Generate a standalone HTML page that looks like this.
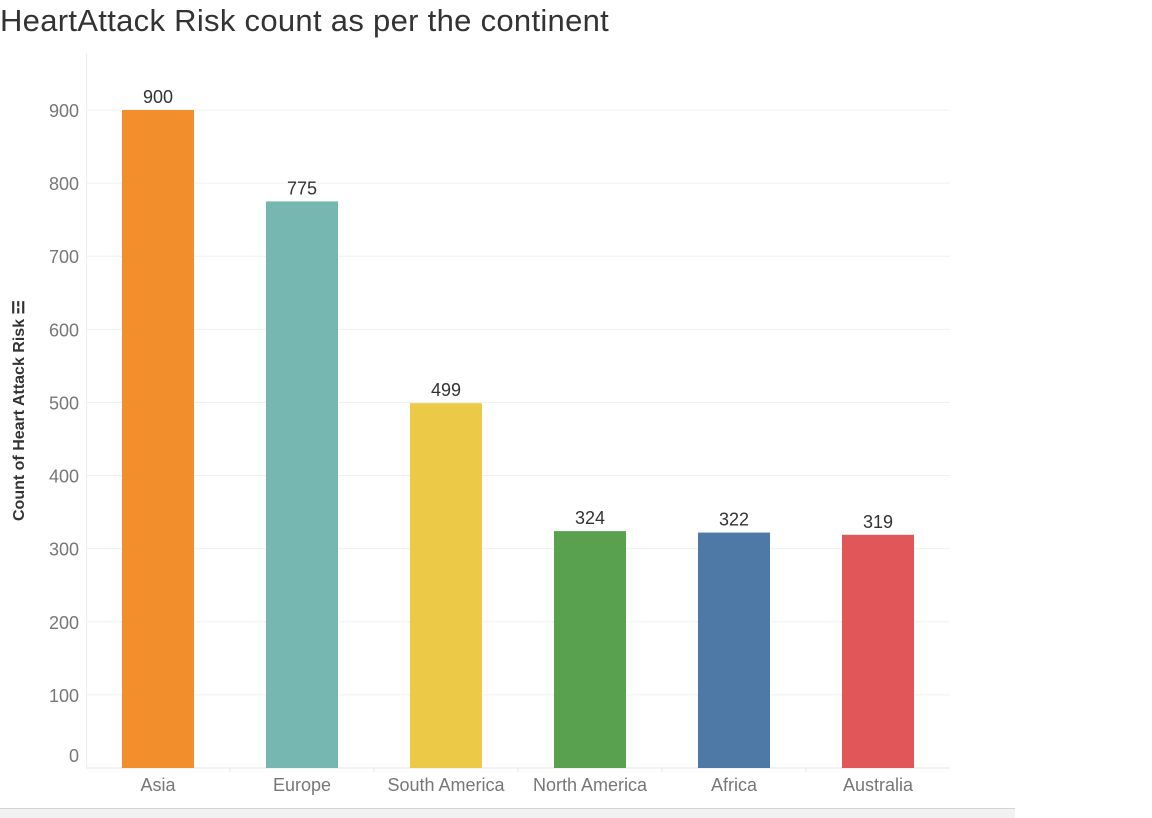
<!DOCTYPE html>
<html><head><meta charset="utf-8"><style>
body{margin:0;width:1152px;height:817px;background:#fff;overflow:hidden;font-family:"Liberation Sans",sans-serif}
#title{position:absolute;left:0;top:3px;font-size:31px;color:#333;font-weight:300;letter-spacing:0.3px}
#footer{position:absolute;left:0;top:808px;width:1015px;height:9px;background:#f2f2f2;border-top:1px solid #d4d4d4}
</style></head><body>
<div id="title">HeartAttack Risk count as per the continent</div>
<svg id="chart" width="1152" height="817" style="position:absolute;left:0;top:0"></svg>
<div id="footer"></div>
<script>
const categories=["Asia","Europe","South America","North America","Africa","Australia"];
const values=[900,775,499,324,322,319];
const colors=["#f28e2b","#76b7b2","#edc948","#59a14f","#4e79a7","#e15759"];
const ticks=[0,100,200,300,400,500,600,700,800,900];
const NS="http://www.w3.org/2000/svg";
const svg=document.getElementById('chart');
const y0=768,pxPer=(768-110)/900,left=86.5,right=950,step=144,bw=72,firstCenter=158;
const yS=v=>y0-v*pxPer;
const xS=i=>firstCenter+i*step;
function mk(t,a){const e=document.createElementNS(NS,t);for(const k in a)e.setAttribute(k,a[k]);svg.appendChild(e);return e;}
ticks.forEach(t=>{
  const g=mk('line',{x1:left,x2:right,y1:yS(t),y2:yS(t),stroke:t===0?'#e6e6e6':'#f0f0f0','stroke-width':1});
  
  
  const l=mk('text',{x:79,y:yS(t)+(t===0?-6:7),'text-anchor':'end','font-size':18,fill:'#777'});
  l.textContent=t;
  
  
});
const ax=mk('line',{x1:left,x2:left,y1:53,y2:768,stroke:'#eeeeee'});


categories.forEach((c,i)=>{
  const v=values[i];
  const r=mk('rect',{x:xS(i)-bw/2,y:yS(v),width:bw,height:y0-yS(v),fill:colors[i]});
  
  
  const vl=mk('text',{x:xS(i),y:yS(v)-7,'text-anchor':'middle','font-size':18,fill:'#333'});
  vl.textContent=v;
  
  
  const cl=mk('text',{x:xS(i),y:791,'text-anchor':'middle','font-size':18,fill:'#777'});
  cl.textContent=c;
  
  
  if(i>0){const tk=mk('line',{x1:xS(i)-step/2,x2:xS(i)-step/2,y1:768,y2:772,stroke:'#e6e6e6'});
  
  }
});
const yt=mk('text',{x:0,y:0,transform:'translate(24,521) rotate(-90)','font-size':16,'font-weight':'bold',fill:'#333'});
yt.textContent='Count of Heart Attack Risk \u2632';


</script>
</body></html>
